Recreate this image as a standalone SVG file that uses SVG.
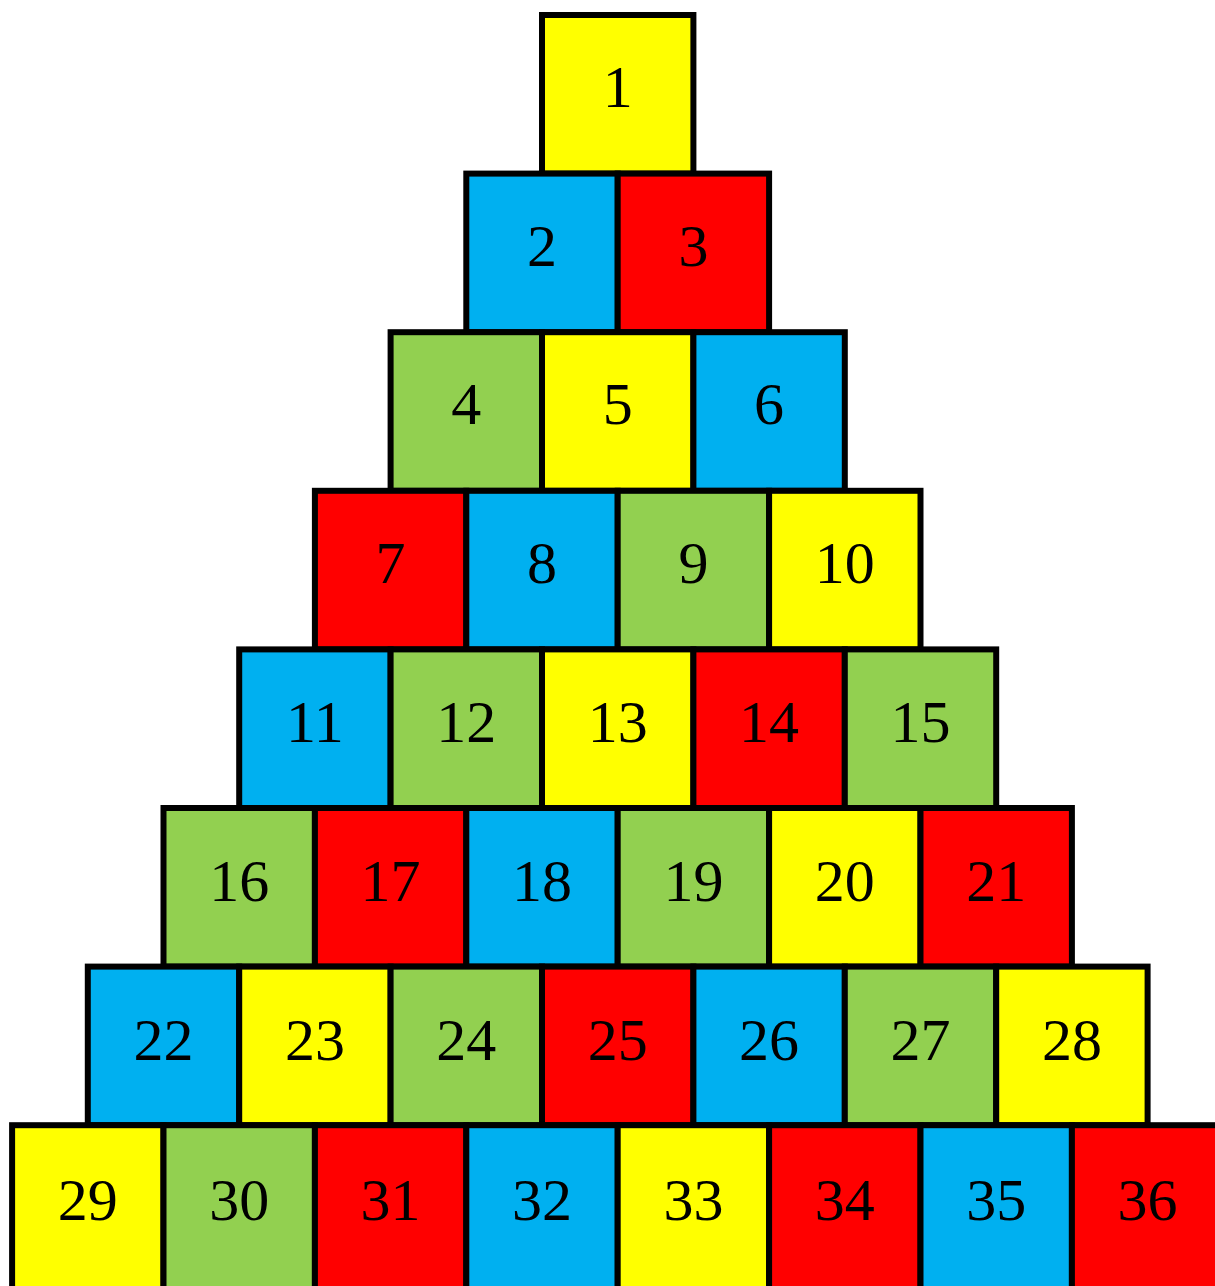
<svg xmlns="http://www.w3.org/2000/svg" width="1215" height="1286" viewBox="0 0 1215 1286">
<style>
.y,.b,.r,.g{stroke:#000;stroke-width:6}
.y{fill:#FFFF00}.b{fill:#00B0F0}.r{fill:#FF0000}.g{fill:#92D050}
text{font-family:"Liberation Serif","Times New Roman",serif;font-size:60px;fill:#000;text-anchor:middle}
</style>
<rect width="1215" height="1286" fill="#fff"/>
<g id="row1">
<g id="n1"><rect class="y" x="542" y="15" width="151.4" height="158.6"/><text x="617.7" y="107">1</text></g>
</g>
<g id="row2">
<g id="n2"><rect class="b" x="466.3" y="173.6" width="151.4" height="158.6"/><text x="542" y="265.5">2</text></g>
<g id="n3"><rect class="r" x="617.7" y="173.6" width="151.4" height="158.6"/><text x="693.4" y="265.5">3</text></g>
</g>
<g id="row3">
<g id="n4"><rect class="g" x="390.6" y="332.2" width="151.4" height="158.6"/><text x="466.3" y="424">4</text></g>
<g id="n5"><rect class="y" x="542" y="332.2" width="151.4" height="158.6"/><text x="617.7" y="424">5</text></g>
<g id="n6"><rect class="b" x="693.4" y="332.2" width="151.4" height="158.6"/><text x="769.1" y="424">6</text></g>
</g>
<g id="row4">
<g id="n7"><rect class="r" x="314.9" y="490.8" width="151.4" height="158.6"/><text x="390.6" y="582.5">7</text></g>
<g id="n8"><rect class="b" x="466.3" y="490.8" width="151.4" height="158.6"/><text x="542" y="582.5">8</text></g>
<g id="n9"><rect class="g" x="617.7" y="490.8" width="151.4" height="158.6"/><text x="693.4" y="582.5">9</text></g>
<g id="n10"><rect class="y" x="769.1" y="490.8" width="151.4" height="158.6"/><text x="844.8" y="582.5">10</text></g>
</g>
<g id="row5">
<g id="n11"><rect class="b" x="239.2" y="649.4" width="151.4" height="158.6"/><text x="314.9" y="742">11</text></g>
<g id="n12"><rect class="g" x="390.6" y="649.4" width="151.4" height="158.6"/><text x="466.3" y="742">12</text></g>
<g id="n13"><rect class="y" x="542" y="649.4" width="151.4" height="158.6"/><text x="617.7" y="742">13</text></g>
<g id="n14"><rect class="r" x="693.4" y="649.4" width="151.4" height="158.6"/><text x="769.1" y="742">14</text></g>
<g id="n15"><rect class="g" x="844.8" y="649.4" width="151.4" height="158.6"/><text x="920.5" y="742">15</text></g>
</g>
<g id="row6">
<g id="n16"><rect class="g" x="163.5" y="808" width="151.4" height="158.6"/><text x="239.2" y="900.5">16</text></g>
<g id="n17"><rect class="r" x="314.9" y="808" width="151.4" height="158.6"/><text x="390.6" y="900.5">17</text></g>
<g id="n18"><rect class="b" x="466.3" y="808" width="151.4" height="158.6"/><text x="542" y="900.5">18</text></g>
<g id="n19"><rect class="g" x="617.7" y="808" width="151.4" height="158.6"/><text x="693.4" y="900.5">19</text></g>
<g id="n20"><rect class="y" x="769.1" y="808" width="151.4" height="158.6"/><text x="844.8" y="900.5">20</text></g>
<g id="n21"><rect class="r" x="920.5" y="808" width="151.4" height="158.6"/><text x="996.2" y="900.5">21</text></g>
</g>
<g id="row7">
<g id="n22"><rect class="b" x="87.8" y="966.6" width="151.4" height="158.6"/><text x="163.5" y="1060">22</text></g>
<g id="n23"><rect class="y" x="239.2" y="966.6" width="151.4" height="158.6"/><text x="314.9" y="1060">23</text></g>
<g id="n24"><rect class="g" x="390.6" y="966.6" width="151.4" height="158.6"/><text x="466.3" y="1060">24</text></g>
<g id="n25"><rect class="r" x="542" y="966.6" width="151.4" height="158.6"/><text x="617.7" y="1060">25</text></g>
<g id="n26"><rect class="b" x="693.4" y="966.6" width="151.4" height="158.6"/><text x="769.1" y="1060">26</text></g>
<g id="n27"><rect class="g" x="844.8" y="966.6" width="151.4" height="158.6"/><text x="920.5" y="1060">27</text></g>
<g id="n28"><rect class="y" x="996.2" y="966.6" width="151.4" height="158.6"/><text x="1071.9" y="1060">28</text></g>
</g>
<g id="row8">
<g id="n29"><rect class="y" x="12.1" y="1125.2" width="151.4" height="170"/><text x="87.8" y="1220">29</text></g>
<g id="n30"><rect class="g" x="163.5" y="1125.2" width="151.4" height="170"/><text x="239.2" y="1220">30</text></g>
<g id="n31"><rect class="r" x="314.9" y="1125.2" width="151.4" height="170"/><text x="390.6" y="1220">31</text></g>
<g id="n32"><rect class="b" x="466.3" y="1125.2" width="151.4" height="170"/><text x="542" y="1220">32</text></g>
<g id="n33"><rect class="y" x="617.7" y="1125.2" width="151.4" height="170"/><text x="693.4" y="1220">33</text></g>
<g id="n34"><rect class="r" x="769.1" y="1125.2" width="151.4" height="170"/><text x="844.8" y="1220">34</text></g>
<g id="n35"><rect class="b" x="920.5" y="1125.2" width="151.4" height="170"/><text x="996.2" y="1220">35</text></g>
<g id="n36"><rect class="r" x="1071.9" y="1125.2" width="151.4" height="170"/><text x="1147.6" y="1220">36</text></g>
</g>
<g id="connectors"/>
</svg>
